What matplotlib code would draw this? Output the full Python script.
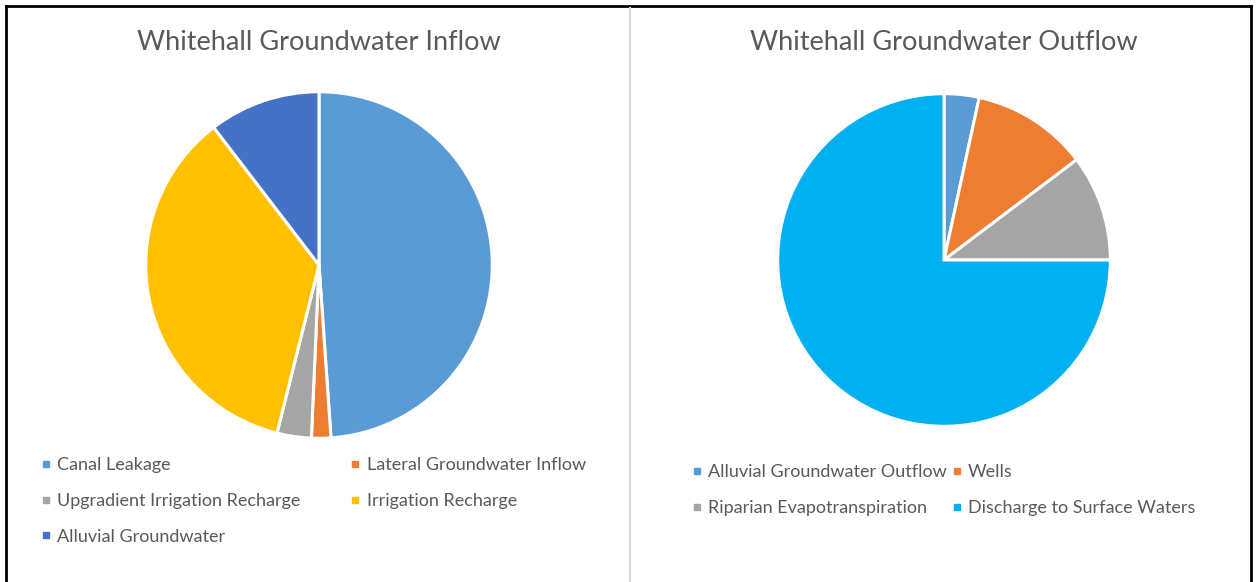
import matplotlib
matplotlib.use("Agg")
import matplotlib.pyplot as plt
from matplotlib.lines import Line2D

plt.rcParams['font.family'] = ['Lato', 'DejaVu Sans']

W, H = 1257, 582
text_grey = '#595959'

inflow_labels = ['Canal Leakage', 'Lateral Groundwater Inflow', 'Upgradient Irrigation Recharge',
                 'Irrigation Recharge', 'Alluvial Groundwater']
inflow_values = [48.9, 1.8, 3.2, 35.7, 10.4]
inflow_colors = ['#5B9BD5', '#ED7D31', '#A5A5A5', '#FFC000', '#4472C4']

outflow_labels = ['Alluvial Groundwater Outflow', 'Wells', 'Riparian Evapotranspiration',
                  'Discharge to Surface Waters']
outflow_values = [3.4, 11.3, 10.3, 75.0]
outflow_colors = ['#5B9BD5', '#ED7D31', '#A5A5A5', '#00B0F0']

fig = plt.figure(figsize=(W / 100, H / 100), dpi=100)


def px_axes(cx, cy, r):
    # square axes centred on (cx, cy) in pixels from the top-left corner
    return fig.add_axes([(cx - r) / W, (H - cy - r) / H, 2 * r / W, 2 * r / H])


def draw_pie(ax, values, colors):
    ax.pie(values, colors=colors, startangle=90, counterclock=False, radius=1,
           wedgeprops=dict(edgecolor='white', linewidth=2.2))
    ax.set_xlim(-1.01, 1.01)
    ax.set_ylim(-1.01, 1.01)
    ax.axis('off')


def draw_legend(labels, colors, x, y, colspacing):
    handles = [Line2D([], [], marker='s', markersize=4, linestyle='none', color=c) for c in colors]
    # legend fills column by column; reorder so entries read across rows
    order = list(range(0, len(labels), 2)) + list(range(1, len(labels), 2))
    fig.legend([handles[i] for i in order], [labels[i] for i in order], ncol=2, loc='upper left',
               bbox_to_anchor=(x / W, 1 - y / H), bbox_transform=fig.transFigure,
               frameon=False, fontsize=13, labelcolor=text_grey,
               handlelength=0.45, handletextpad=0.4, columnspacing=colspacing,
               labelspacing=1.1, borderpad=0, borderaxespad=0)


ax_in = px_axes(319, 265, 175)
draw_pie(ax_in, inflow_values, inflow_colors)
fig.text(319 / W, 1 - 42 / H, 'Whitehall Groundwater Inflow', ha='center', va='center',
         fontsize=19.5, color=text_grey)
draw_legend(inflow_labels, inflow_colors, 42, 457, 2.8)

ax_out = px_axes(944, 260, 168)
draw_pie(ax_out, outflow_values, outflow_colors)
fig.text(944 / W, 1 - 42 / H, 'Whitehall Groundwater Outflow', ha='center', va='center',
         fontsize=19.5, color=text_grey)
draw_legend(outflow_labels, outflow_colors, 693, 464, 0.3)

# outer frame and panel divider
frame = dict(color='black', linewidth=2, transform=fig.transFigure)
fig.add_artist(Line2D([6 / W, 6 / W], [0, 1 - 6 / H], **frame))
fig.add_artist(Line2D([1251 / W, 1251 / W], [0, 1 - 6 / H], **frame))
fig.add_artist(Line2D([6 / W, 1251 / W], [1 - 6 / H, 1 - 6 / H], **frame))
fig.add_artist(Line2D([630 / W, 630 / W], [0, 1 - 8 / H], color='#D9D9D9', linewidth=1.5,
                      transform=fig.transFigure))

fig.savefig('out.png', dpi=100)
